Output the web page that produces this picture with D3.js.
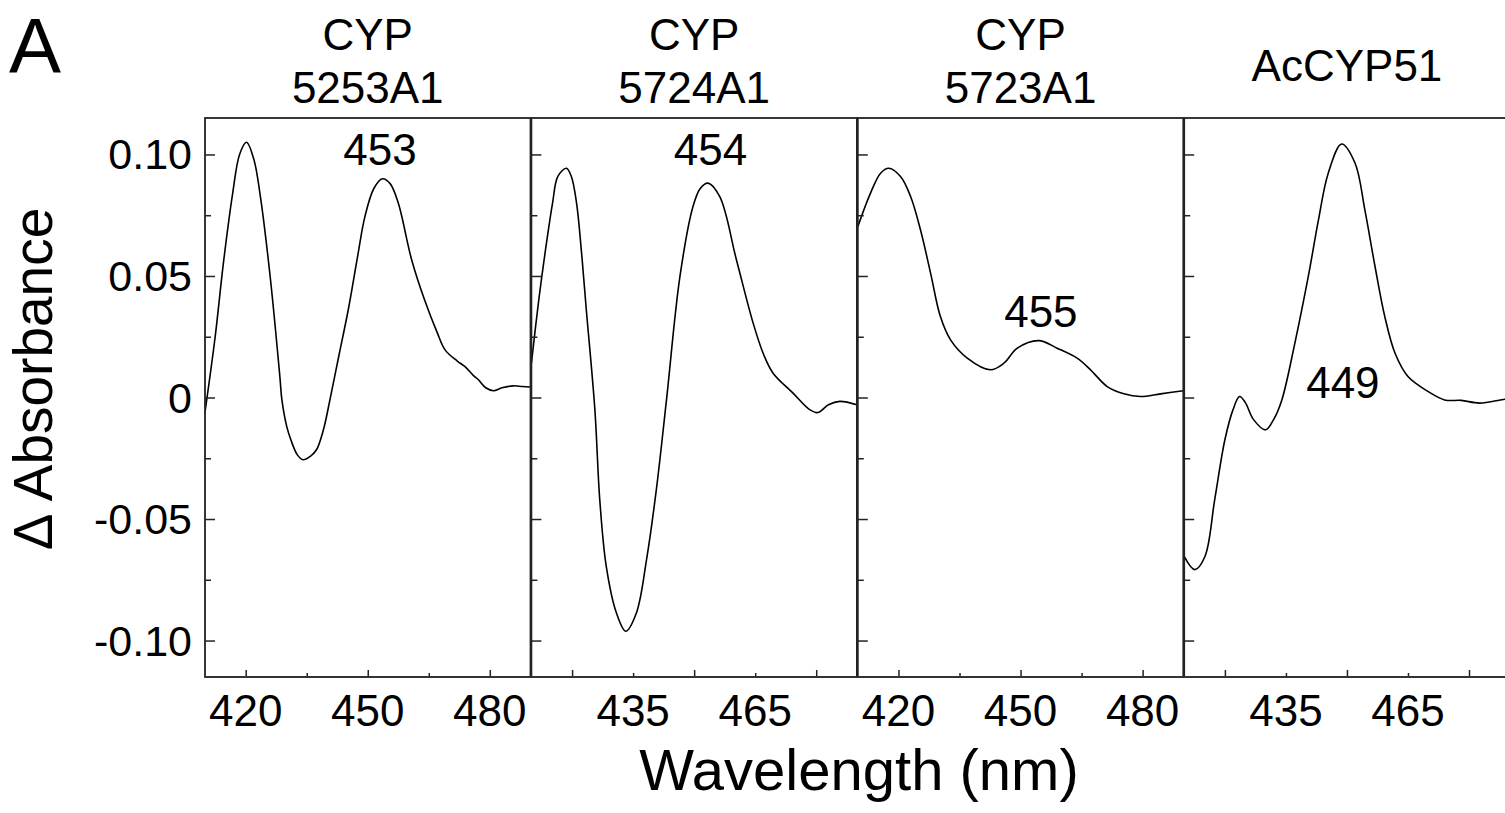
<!DOCTYPE html>
<html>
<head>
<meta charset="utf-8">
<script src="https://cdn.jsdelivr.net/npm/d3@7"></script>
<style>
    html, body { margin: 0; padding: 0; background: #fff; }
    svg { display: block; }
    svg text { font-family: 'Liberation Sans', Arial, Helvetica, sans-serif; fill: #000; }
</style>
</head>
<body>
<div id="container"></div>
<script>
// 面板标题
const panelTitles = [['CYP', '5253A1'], ['CYP', '5724A1'], ['CYP', '5723A1'], ['AcCYP51']];
// 峰值标注
const peakLabels = ['453', '454', '455', '449'];
const peakLabelX = [453, 454, 455, 449];
const peakLabelY = [0.0956, 0.0956, 0.029, -0.0001];

// 刻度
const yTickValues = [0.10, 0.05, 0, -0.05, -0.10];
const yMinorTicks = [0.075, 0.025, -0.025, -0.075];
const xTickValues = [420, 450, 480];
const xMinorTicks = [435, 465];
const xTickLabels = [[420, 450, 480], [435, 465], [420, 450, 480], [435, 465]];

// 光谱数据
const wl5253A1 = [410, 412.5, 414.5, 416.8, 418.5, 420.2, 422, 423.5, 426, 428.4, 428.9, 430.1, 431.1, 432.7,
    434.1, 435.8, 437.4, 439.1, 440.7, 443, 445.2, 447.5, 449.3, 451.5, 453.6, 455.5, 457.5, 460.8, 464, 467,
    469, 472, 473.9, 476, 477.2, 479, 480.9, 483, 485.8, 488, 490];
const abs5253A1 = [-0.006, 0.025, 0.055, 0.084, 0.100, 0.105, 0.098, 0.084, 0.050, 0.0086, -0.001, -0.012,
    -0.0174, -0.0236, -0.0256, -0.0243, -0.0215, -0.0133, -0.001, 0.018, 0.036, 0.058, 0.0744, 0.086, 0.090,
    0.088, 0.080, 0.0566, 0.040, 0.027, 0.0196, 0.015, 0.0127, 0.009, 0.0073, 0.004, 0.0028, 0.004, 0.0048,
    0.0045, 0.0043];

const wl5724A1 = [410, 411.8, 413.7, 415.2, 416.5, 418.6, 419.8, 421.1, 422.3, 423.5, 425.6, 426.8, 428.4, 430.9,
    433.2, 435.8, 438.3, 440.7, 443.2, 446.5, 449.7, 451.5, 453.4, 456.3, 460.4, 464.5, 467, 469.4, 474.3,
    478.4, 480.4, 483, 485.8, 490];
const abs5724A1 = [0.014, 0.040, 0.0635, 0.080, 0.091, 0.0943, 0.091, 0.080, 0.060, 0.036, -0.005, -0.042,
    -0.0695, -0.0887, -0.0962, -0.0887, -0.0667, -0.038, -0.001, 0.0497, 0.0785, 0.086, 0.0882, 0.0826,
    0.0566, 0.0306, 0.018, 0.010, 0.0018, -0.005, -0.0062, -0.003, -0.0016, -0.003];

const wl5723A1 = [410, 413.1, 415.6, 417.6, 420.5, 423, 425.4, 427.9, 430.3, 432.8, 436.9, 442.6, 445.9, 449.2,
    454.5, 459, 463.9, 467.2, 471.3, 475.4, 479.5, 484.4, 490];
const abs5723A1 = [0.0703, 0.084, 0.0923, 0.0943, 0.0909, 0.0826, 0.069, 0.0511, 0.0333, 0.0237, 0.0162, 0.0114,
    0.0141, 0.0203, 0.0234, 0.0203, 0.0162, 0.0114, 0.0045, 0.0015, 0.0004, 0.0015, 0.0028];

const wlAcCYP51 = [410, 412.6, 415.1, 417.5, 420, 422, 423.6, 425, 427, 430, 432, 434, 437.2, 440.5, 443, 445.4,
    448.7, 452, 454.4, 456.9, 459.3, 461.8, 465, 469.9, 474, 478.1, 482.6, 488.8, 490];
const absAcCYP51 = [-0.0654, -0.0708, -0.0654, -0.042, -0.0174, -0.005, 0.0004, -0.002, -0.009, -0.0133, -0.009,
    -0.001, 0.0224, 0.0498, 0.0731, 0.0923, 0.1043, 0.0964, 0.0772, 0.0539, 0.0333, 0.0183, 0.0086, 0.0025,
    -0.001, -0.0012, -0.0023, -0.0007, -0.0007];

const spectraX = [wl5253A1, wl5724A1, wl5723A1, wlAcCYP51];
const spectraY = [abs5253A1, abs5724A1, abs5723A1, absAcCYP51];

// 布局
const CONFIG = {
    width: 1505,
    height: 813,
    top: 118,
    bottom: 677,
    left: 205,
    panelWidth: 325.5,
    panelStep: 326.4,
    fontSize: 44
};

const svg = d3.select('#container')
    .append('svg')
    .attr('width', CONFIG.width)
    .attr('height', CONFIG.height);

const yScale = d3.scaleLinear().domain([-0.115, 0.115]).range([CONFIG.bottom, CONFIG.top]);
const innerHeight = CONFIG.bottom - CONFIG.top;

const line = d3.line().curve(d3.curveCatmullRom.alpha(0.5));
const labels = svg.append('g').attr('class', 'labels');

panelTitles.forEach((title, i) => {
    const x0 = CONFIG.left + i * CONFIG.panelStep;
    // 每个面板的 x 比例尺直接映射到页面坐标
    const xScale = d3.scaleLinear().domain([410, 490]).range([x0, x0 + CONFIG.panelWidth]);
    const g = svg.append('g');

    // 裁剪区
    g.append('clipPath').attr('id', 'clip' + i)
        .append('rect')
        .attr('x', x0).attr('y', CONFIG.top)
        .attr('width', CONFIG.panelWidth).attr('height', innerHeight);

    // 曲线
    const pts = spectraX[i].map((w, k) => [xScale(w), yScale(spectraY[i][k])]);
    g.append('path')
        .attr('d', line(pts))
        .attr('clip-path', `url(#clip${i})`)
        .attr('fill', 'none')
        .attr('stroke', '#000')
        .attr('stroke-width', 1.6);

    // 左轴（刻度朝内）
    const yAxis = d3.axisRight(yScale).tickValues(yTickValues).tickSize(10).tickFormat('');
    const yMinor = d3.axisRight(yScale).tickValues(yMinorTicks).tickSize(6).tickFormat('');
    [yAxis, yMinor].forEach(ax => {
        const a = g.append('g').attr('transform', `translate(${x0},0)`).call(ax);
        a.select('.domain').remove();
        a.selectAll('text').remove();
        a.selectAll('line').attr('stroke', '#222').attr('stroke-width', 1.5);
    });

    // 下轴（刻度朝内）
    const xAxis = d3.axisTop(xScale).tickValues(xTickValues).tickSize(7).tickFormat('');
    const xMinor = d3.axisTop(xScale).tickValues(xMinorTicks).tickSize(4).tickFormat('');
    [xAxis, xMinor].forEach(ax => {
        const a = g.append('g').attr('transform', `translate(0,${CONFIG.bottom})`).call(ax);
        a.select('.domain').remove();
        a.selectAll('text').remove();
        a.selectAll('line').attr('stroke', '#222').attr('stroke-width', 1.5);
    });

    // 边框
    g.append('rect')
        .attr('x', x0).attr('y', CONFIG.top)
        .attr('width', CONFIG.panelWidth).attr('height', innerHeight)
        .attr('fill', 'none')
        .attr('stroke', '#222')
        .attr('stroke-width', 1.8);
    g.append('line')
        .attr('x1', x0).attr('x2', x0 + CONFIG.panelWidth)
        .attr('y1', CONFIG.bottom).attr('y2', CONFIG.bottom)
        .attr('stroke', '#333')
        .attr('stroke-width', 2.2);

    // x 刻度文字
    xTickLabels[i].forEach(d => {
        labels.append('text')
            .attr('x', xScale(d))
            .attr('y', 726)
            .attr('text-anchor', 'middle')
            .attr('font-size', CONFIG.fontSize)
            .text(d);
    });

    // 标题
    const titleBase = title.length === 2 ? [50, 103] : [81];
    title.forEach((t, k) => {
        labels.append('text')
            .attr('x', x0 + CONFIG.panelWidth / 2)
            .attr('y', titleBase[k])
            .attr('text-anchor', 'middle')
            .attr('font-size', CONFIG.fontSize)
            .text(t);
    });

    // 峰值标注
    labels.append('text')
        .attr('x', xScale(peakLabelX[i]))
        .attr('y', yScale(peakLabelY[i]))
        .attr('text-anchor', 'middle')
        .attr('font-size', CONFIG.fontSize)
        .text(peakLabels[i]);
});

// y 刻度文字（仅第一面板）
yTickValues.forEach(d => {
    labels.append('text')
        .attr('x', 192)
        .attr('y', yScale(d) + 15)
        .attr('text-anchor', 'end')
        .attr('font-size', 43)
        .text(d === 0 ? '0' : d.toFixed(2));
});

// 轴标题
labels.append('text')
    .attr('transform', 'translate(52,379) rotate(-90)')
    .attr('text-anchor', 'middle')
    .attr('font-size', 55)
    .text('Δ Absorbance');

labels.append('text')
    .attr('x', 859)
    .attr('y', 790)
    .attr('text-anchor', 'middle')
    .attr('font-size', 58)
    .text('Wavelength (nm)');

labels.append('text')
    .attr('x', 9)
    .attr('y', 73)
    .attr('font-size', 78)
    .text('A');
</script>
</body>
</html>
